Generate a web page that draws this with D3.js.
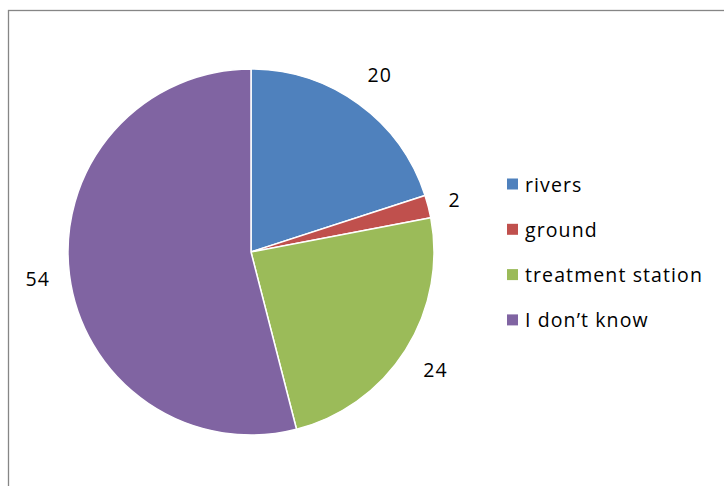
<!DOCTYPE html>
<html>
<head>
<meta charset="utf-8">
<script src="https://cdn.jsdelivr.net/npm/d3@7"></script>
<style>
  html, body { margin: 0; padding: 0; background: #fff; }
  svg { display: block; }
  text { font-family: "Open Sans", Lato, sans-serif; fill: #000; letter-spacing: 1.1px; }
</style>
</head>
<body>
<svg id="chart" width="724" height="486"></svg>
<script>
// Water source survey answers
const categories = ["rivers", "ground", "treatment station", "I don\u2019t know"];
const values = [20, 2, 24, 54];
const colors = ["#4F81BD", "#C0504D", "#9BBB59", "#8064A2"];

const svg = d3.select("#chart");
const width = 724, height = 486;

// chart frame
svg.append("rect")
  .attr("x", 8.5).attr("y", 10.5)
  .attr("width", width + 20).attr("height", height + 20)
  .attr("fill", "#fff")
  .attr("stroke", "#868686")
  .attr("stroke-width", 1.3);

const cx = 251, cy = 252, r = 183;
const fontSize = 19.5;

const pie = d3.pie().sort(null).value(d => d.value);
const arcs = pie(categories.map((c, i) => ({ name: c, value: values[i], color: colors[i] })));
const arc = d3.arc().innerRadius(0).outerRadius(r);

const g = svg.append("g").attr("transform", `translate(${cx},${cy})`);

g.selectAll("path.slice")
  .data(arcs)
  .enter().append("path")
  .attr("class", "slice")
  .attr("d", arc)
  .attr("fill", d => d.data.color)
  .attr("stroke", "#fff")
  .attr("stroke-width", 1.5)
  .attr("stroke-linejoin", "round");

// value labels placed just outside the slice edge
const gap = 18;
g.selectAll("text.val")
  .data(arcs)
  .enter().append("text")
  .attr("class", "val")
  .attr("font-size", fontSize)
  .attr("text-anchor", "middle")
  .attr("dominant-baseline", "central")
  .text(d => d.data.value)
  .each(function(d) {
    const bb = this.getBBox();
    const a = (d.startAngle + d.endAngle) / 2;
    const sx = Math.sin(a), sy = -Math.cos(a);
    const ext = Math.abs(sx) * bb.width / 2 + Math.abs(sy) * bb.height / 2;
    const dist = r + gap + ext;
    d3.select(this).attr("x", sx * dist).attr("y", sy * dist);
  });

// legend
const legend = svg.append("g").attr("transform", "translate(507,184)");
const rowStep = 45.3;
const rows = legend.selectAll("g.row")
  .data(arcs)
  .enter().append("g")
  .attr("class", "row")
  .attr("transform", (d, i) => `translate(0,${i * rowStep})`);

rows.append("rect")
  .attr("x", 0).attr("y", -5.5)
  .attr("width", 11).attr("height", 11)
  .attr("fill", d => d.data.color);

rows.append("text")
  .attr("x", 18)
  .attr("y", 0)
  .attr("dominant-baseline", "central")
  .attr("font-size", fontSize)
  .text(d => d.data.name);
</script>
</body>
</html>
